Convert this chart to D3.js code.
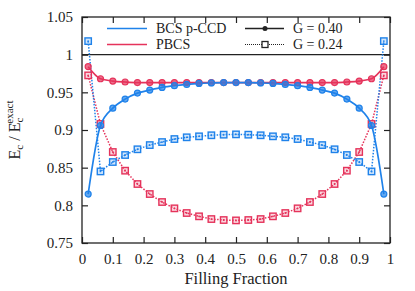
<!DOCTYPE html>
<html>
<head>
<meta charset="utf-8">
<script src="https://cdn.jsdelivr.net/npm/d3@7"></script>
<style>
  body { margin: 0; background: #fff; }
  svg text { fill: #222; }
</style>
</head>
<body>
<div id="chart"></div>
<script>
// filling fractions where points were computed
var fillings = [0.02, 0.06, 0.10, 0.14, 0.18, 0.22, 0.26, 0.30, 0.34, 0.38, 0.42, 0.46, 0.50,
                0.54, 0.58, 0.62, 0.66, 0.70, 0.74, 0.78, 0.82, 0.86, 0.90, 0.94, 0.98];

// Ec / Ec_exact
var bcsG40  = [0.815, 0.906, 0.929, 0.941, 0.949, 0.953, 0.9565, 0.9588, 0.9605, 0.9618, 0.9625, 0.963, 0.963,
               0.963, 0.9625, 0.9618, 0.9605, 0.9588, 0.9565, 0.953, 0.949, 0.941, 0.929, 0.906, 0.815];
var pbcsG40 = [0.984, 0.968, 0.965, 0.9637, 0.963, 0.963, 0.963, 0.963, 0.963, 0.963, 0.963, 0.963, 0.963,
               0.963, 0.963, 0.963, 0.963, 0.963, 0.963, 0.963, 0.963, 0.9637, 0.965, 0.968, 0.984];
var bcsG24  = [1.018, 0.845, 0.8575, 0.8668, 0.8744, 0.880, 0.884, 0.888, 0.8903, 0.8916, 0.893, 0.8938, 0.8942,
               0.8938, 0.893, 0.8916, 0.8903, 0.888, 0.884, 0.880, 0.8744, 0.8668, 0.8575, 0.845, 1.018];
var pbcsG24 = [0.9725, 0.908, 0.8708, 0.846, 0.8283, 0.815, 0.8044, 0.796, 0.7898, 0.7854, 0.7818, 0.7805, 0.780,
               0.7805, 0.7818, 0.7854, 0.7898, 0.796, 0.8044, 0.815, 0.8283, 0.846, 0.8708, 0.908, 0.9725];

var xTicks = [0, 0.1, 0.2, 0.3, 0.4, 0.5, 0.6, 0.7, 0.8, 0.9, 1];
var yTicks = [0.75, 0.8, 0.85, 0.9, 0.95, 1, 1.05];

var blue = "#1f82ea";
var red = "#e5335b";
var serif = "'Liberation Serif', serif";

var svgWidth = 415;
var svgHeight = 291;
var margin = { top: 17, right: 25, bottom: 48, left: 82 };
var width = svgWidth - margin.left - margin.right;
var height = svgHeight - margin.top - margin.bottom;

var svg = d3.select("#chart")
  .append("svg")
  .attr("width", svgWidth)
  .attr("height", svgHeight)
  .style("font-family", serif);

var chartGroup = svg.append("g")
  .attr("transform", `translate(${margin.left}, ${margin.top})`);

var x = d3.scaleLinear().domain([0, 1]).range([0, width]);
var y = d3.scaleLinear().domain([0.75, 1.05]).range([height, 0]);

// axes with inward ticks on all four sides
var fmt = d => String(+d.toFixed(2));
var bottomAxis = d3.axisBottom(x).tickValues(xTicks).tickSize(-6).tickPadding(10).tickFormat(fmt);
var topAxis = d3.axisTop(x).tickValues(xTicks).tickSize(-6).tickFormat("");
var leftAxis = d3.axisLeft(y).tickValues(yTicks).tickSize(-6).tickPadding(9).tickFormat(fmt);
var rightAxis = d3.axisRight(y).tickValues(yTicks).tickSize(-6).tickFormat("");

function styleAxis(g) {
  g.attr("font-family", null).attr("font-size", 15);
  g.select(".domain").remove();
  g.selectAll(".tick line").attr("stroke", "#222").attr("stroke-width", 1.2);
  g.selectAll(".tick text").attr("fill", "#222");
}

chartGroup.append("g").attr("transform", `translate(0, ${height})`).call(bottomAxis).call(styleAxis);
chartGroup.append("g").call(topAxis).call(styleAxis);
chartGroup.append("g").call(leftAxis).call(styleAxis);
chartGroup.append("g").attr("transform", `translate(${width}, 0)`).call(rightAxis).call(styleAxis);

// reference line at 1
chartGroup.append("line")
  .attr("x1", 0).attr("x2", width)
  .attr("y1", y(1)).attr("y2", y(1))
  .attr("stroke", "#222").attr("stroke-width", 1.3);

var solidLine = d3.line().x(d => x(d[0])).y(d => y(d[1])).curve(d3.curveMonotoneX);
var dotLine = d3.line().x(d => x(d[0])).y(d => y(d[1]));

function pairs(vals) { return fillings.map((f, i) => [f, vals[i]]); }

function drawDotted(vals, color) {
  chartGroup.append("path")
    .datum(pairs(vals))
    .attr("fill", "none")
    .attr("stroke", color)
    .attr("stroke-width", 1.5)
    .attr("stroke-dasharray", "1.5,1.5")
    .attr("d", dotLine);
}

function drawSolid(vals, color) {
  chartGroup.append("path")
    .datum(pairs(vals))
    .attr("fill", "none")
    .attr("stroke", color)
    .attr("stroke-width", 1.7)
    .attr("d", solidLine);
}

function drawSquares(vals, color) {
  var g = chartGroup.append("g");
  g.selectAll("rect")
    .data(pairs(vals))
    .enter()
    .append("rect")
    .attr("x", d => x(d[0]) - 3.2)
    .attr("y", d => y(d[1]) - 3.2)
    .attr("width", 6.4).attr("height", 6.4)
    .attr("fill", color)
    .attr("fill-opacity", 0.2)
    .attr("stroke", color)
    .attr("stroke-width", 1.4);
  g.selectAll("circle")
    .data(pairs(vals))
    .enter()
    .append("circle")
    .attr("cx", d => x(d[0]))
    .attr("cy", d => y(d[1]))
    .attr("r", 0.9)
    .attr("fill", color);
}

function drawCircles(vals, color) {
  chartGroup.append("g").selectAll("circle")
    .data(pairs(vals))
    .enter()
    .append("circle")
    .attr("cx", d => x(d[0]))
    .attr("cy", d => y(d[1]))
    .attr("r", 3)
    .attr("fill", color)
    .attr("fill-opacity", 0.7)
    .attr("stroke", color)
    .attr("stroke-width", 1.2);
}

drawDotted(pbcsG24, red);
drawDotted(bcsG24, blue);
drawSquares(pbcsG24, red);
drawSquares(bcsG24, blue);
drawSolid(pbcsG40, red);
drawSolid(bcsG40, blue);
drawCircles(pbcsG40, red);
drawCircles(bcsG40, blue);

// frame
chartGroup.append("rect")
  .attr("width", width).attr("height", height)
  .attr("fill", "none").attr("stroke", "#222").attr("stroke-width", 1.3);

// legend
var legend = svg.append("g").attr("font-size", 14);
var rowY = [28.5, 44.5];
var methods = [["BCS p-CCD", blue], ["PBCS", red]];
methods.forEach(function(m, i) {
  var ly = rowY[i];
  legend.append("line").attr("x1", 107).attr("x2", 147).attr("y1", ly).attr("y2", ly)
    .attr("stroke", m[1]).attr("stroke-width", 1.7);
  legend.append("text").attr("x", 156).attr("y", ly).attr("dy", "0.35em").text(m[0]);
});

var couplings = [["G = 0.40", false], ["G = 0.24", true]];
couplings.forEach(function(c, i) {
  var ly = rowY[i];
  var ln = legend.append("line").attr("x1", 245).attr("x2", 284).attr("y1", ly).attr("y2", ly)
    .attr("stroke", "#222").attr("stroke-width", c[1] ? 1.2 : 1.4);
  if (c[1]) {
    ln.attr("stroke-dasharray", "1,1");
    legend.append("rect").attr("x", 262).attr("y", ly - 3).attr("width", 6).attr("height", 6)
      .attr("fill", "#fff").attr("stroke", "#222").attr("stroke-width", 1.3);
  } else {
    legend.append("circle").attr("cx", 265).attr("cy", ly).attr("r", 2.5).attr("fill", "#222");
  }
  legend.append("text").attr("x", 293).attr("y", ly).attr("dy", "0.35em").text(c[0]);
});

// axis titles
svg.append("text")
  .attr("x", margin.left + width / 2)
  .attr("y", 284)
  .attr("text-anchor", "middle")
  .attr("font-size", 16.5)
  .text("Filling Fraction");

var yLabel = svg.append("text")
  .attr("transform", `translate(20, ${margin.top + height / 2}) rotate(-90)`)
  .attr("text-anchor", "middle")
  .attr("font-size", 16);
yLabel.append("tspan").text("E");
yLabel.append("tspan").attr("font-size", 11).attr("dy", 3).text("c");
yLabel.append("tspan").attr("dy", -3).text(" / E");
yLabel.append("tspan").attr("font-size", 11).attr("dy", 3).text("c");
yLabel.append("tspan").attr("font-size", 11).attr("dx", -6).attr("dy", -10).text("exact");
</script>
</body>
</html>
